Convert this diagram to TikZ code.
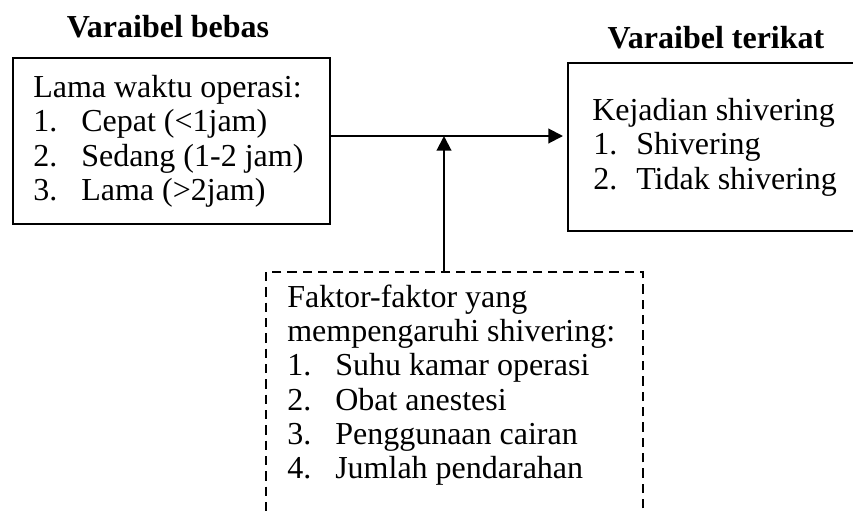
\documentclass[tikz,border=0pt]{standalone}
\usepackage{fontspec}
\setmainfont{Liberation Serif}
\usetikzlibrary{arrows.meta}
\begin{document}
\begin{tikzpicture}[x=0.75pt,y=-0.75pt,
  every node/.style={font=\fontsize{24}{26}\selectfont},
  boxstyle/.style={draw,line width=1.5pt,inner sep=0pt},
  dashbox/.style={draw,line width=1.5pt,inner sep=0pt,dash pattern=on 7pt off 4.5pt},
  txt/.style={anchor=base west,inner sep=0pt},
  head/.style={anchor=base,inner sep=0pt,font=\fontsize{24}{26}\selectfont\bfseries},
  arr/.style={line width=1.5pt,-{Triangle[length=11pt,width=11pt]}}]
\clip (0,0) rectangle (853,511);
\useasboundingbox (0,0) rectangle (853,511);
% boxes
\node[boxstyle,minimum width=237.75pt,minimum height=125pt] (lb) at (171.5,141) {};
\node[boxstyle,minimum width=226.5pt,minimum height=126pt] (rb) at (719,146.5) {};
\node[dashbox,minimum width=282.75pt,minimum height=193.5pt] (db) at (454.5,401) {};
% headings
\node[head] (h1) at (168,37) {Varaibel bebas};
\node[head] (h2) at (716,48) {Varaibel terikat};
% left text
\node[txt] (l0) at (33,97) {Lama waktu operasi:};
\node[txt] (l1n) at (33,131.5) {1.};
\node[txt] (l1) at (81,131.5) {Cepat (<1jam)};
\node[txt] (l2n) at (33,166) {2.};
\node[txt] (l2) at (81,166) {Sedang (1-2 jam)};
\node[txt] (l3n) at (33,200.5) {3.};
\node[txt] (l3) at (81,200.5) {Lama (>2jam)};
% right text
\node[txt] (r0) at (592,120) {Kejadian shivering};
\node[txt] (r1n) at (593,154.5) {1.};
\node[txt] (r1) at (636,154.5) {Shivering};
\node[txt] (r2n) at (593,189) {2.};
\node[txt] (r2) at (636,189) {Tidak shivering};
% bottom text
\node[txt] (b0) at (287,307) {Faktor-faktor yang};
\node[txt] (b1) at (287,341) {mempengaruhi shivering:};
\node[txt] (b2n) at (287,375.5) {1.};
\node[txt] (b2) at (335,375.5) {Suhu kamar operasi};
\node[txt] (b3n) at (287,410) {2.};
\node[txt] (b3) at (335,410) {Obat anestesi};
\node[txt] (b4n) at (287,444) {3.};
\node[txt] (b4) at (335,444) {Penggunaan cairan};
\node[txt] (b5n) at (287,478.5) {4.};
\node[txt] (b5) at (335,478.5) {Jumlah pendarahan};
% connectors
\coordinate (j) at (444,136);
\draw[arr,shorten >=3pt] (lb.east |- j) -- (rb.west |- j);
\draw[arr] (db.north -| j) -- (j);
\end{tikzpicture}
\end{document}
